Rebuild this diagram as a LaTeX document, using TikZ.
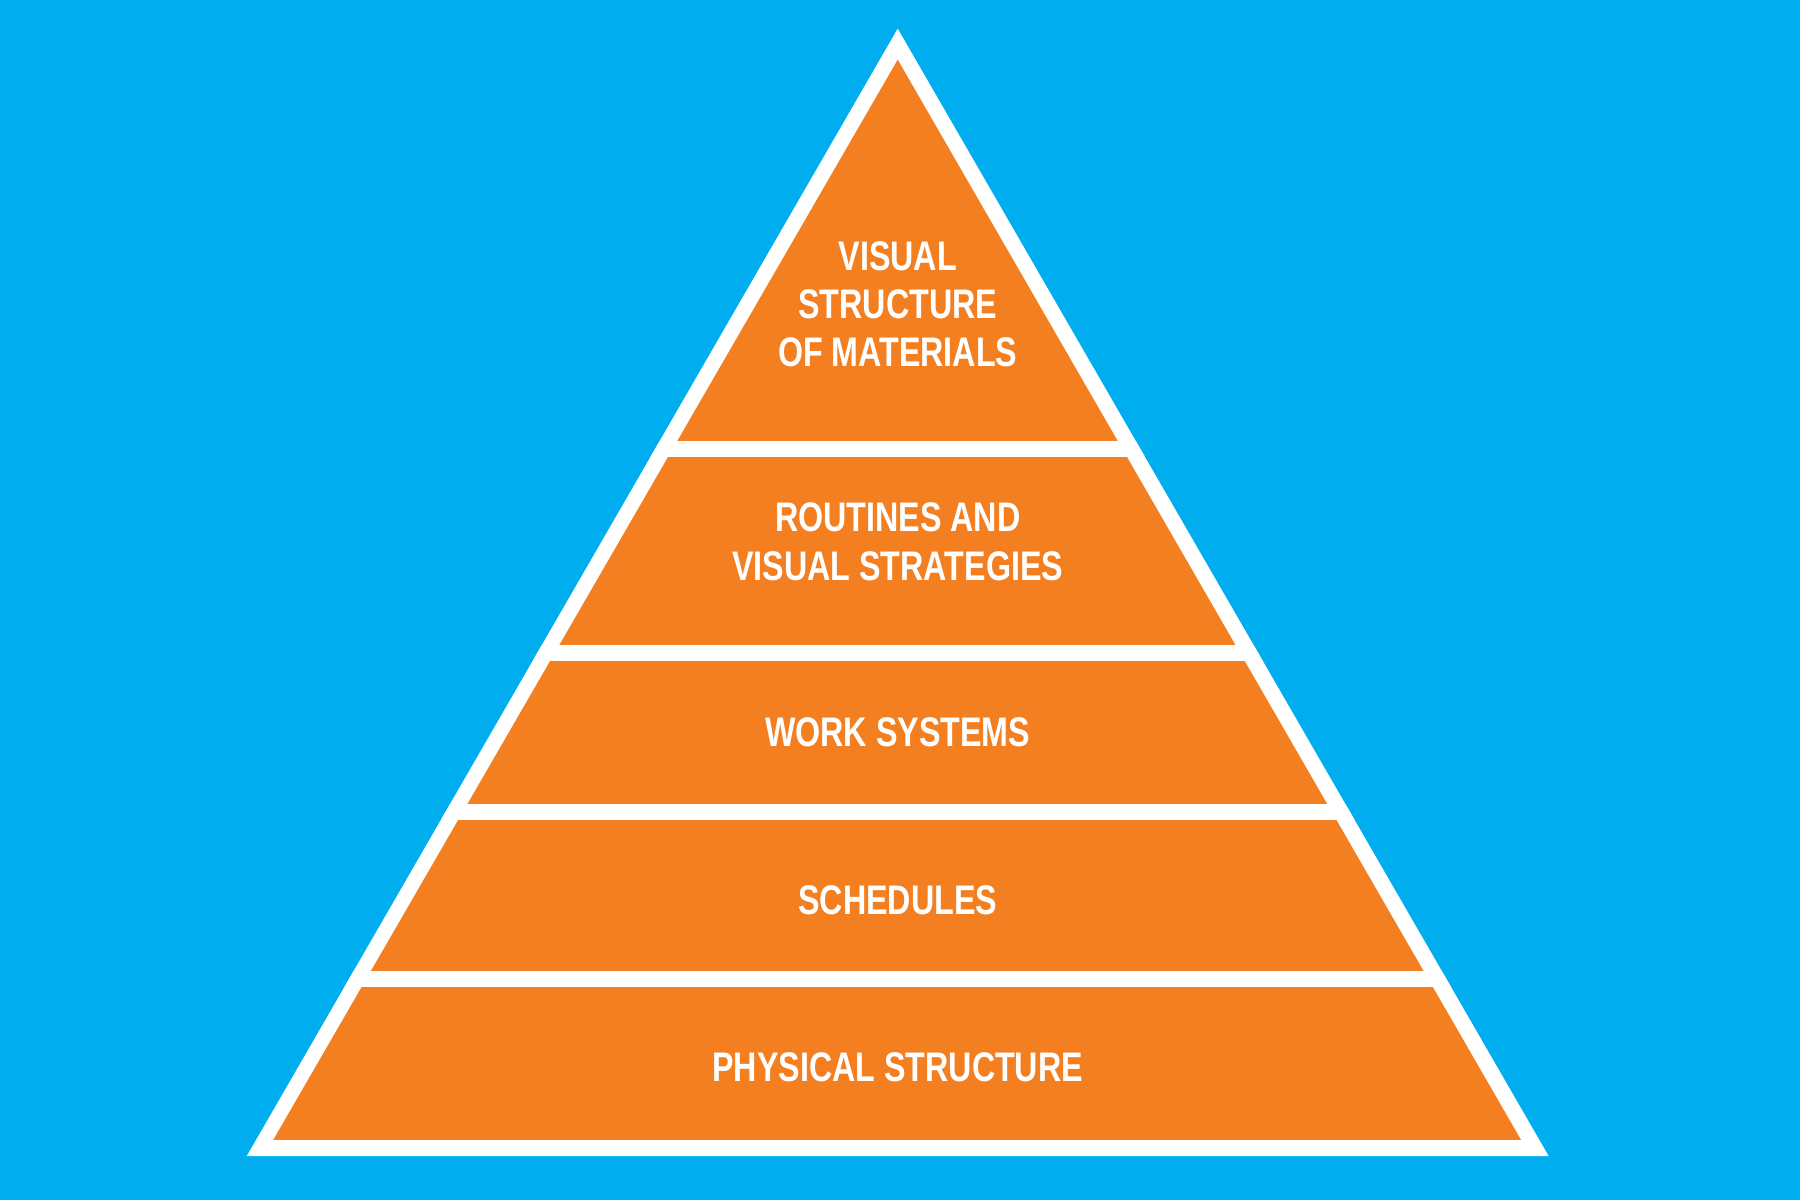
\documentclass[tikz,border=0pt]{standalone}
\usepackage{fontspec}
\setmainfont{Liberation Sans}[FakeStretch=0.78]
\definecolor{bg}{HTML}{00AEEF}
\definecolor{org}{HTML}{F47F20}
\begin{document}
\begin{tikzpicture}[x=1pt,y=-1pt,
  lbl/.style={text=white,font=\fontsize{36}{42}\selectfont\bfseries,align=center,inner sep=0pt}]
\fill[bg] (0,0) rectangle (1568,1045);
\useasboundingbox (0,0) rectangle (1568,1045);
\fill[white] (782,25) -- (1349,1007) -- (215,1007) -- cycle;
\fill[org] (782,52) -- (1325,993) -- (238,993) -- cycle;
\begin{scope}
\clip (782,25) -- (1349,1007) -- (215,1007) -- cycle;
\foreach \a/\b in {384/398,562/576,700/714,846/860}
  \fill[white] (0,\a) rectangle (1568,\b);
\end{scope}
\node[lbl] (t1) at (782,265) {VISUAL\\STRUCTURE\\OF MATERIALS};
\node[lbl] (t2) at (782,472) {ROUTINES AND\\VISUAL STRATEGIES};
\node[lbl] (t3) at (782,638) {WORK SYSTEMS};
\node[lbl] (t4) at (782,784) {SCHEDULES};
\node[lbl] (t5) at (782,930) {PHYSICAL STRUCTURE};
\end{tikzpicture}
\end{document}
